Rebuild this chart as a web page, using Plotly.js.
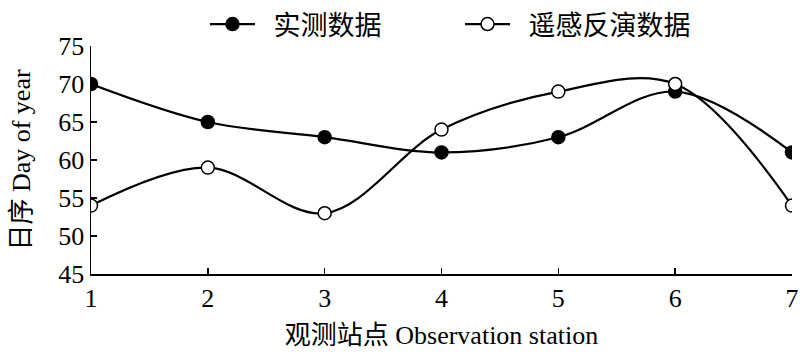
<!DOCTYPE html>
<html><head><meta charset="utf-8">
<script src="https://cdn.plot.ly/plotly-3.0.1.min.js"></script>
<style>html,body{margin:0;padding:0;background:#fff}</style>
</head><body><div id="chart" style="width:800px;height:354px"></div>
<script>
const stations = [1, 2, 3, 4, 5, 6, 7];
const measured = [70, 65, 63, 61, 63, 69, 61];
const remote = [54, 59, 53, 64, 69, 70, 54];
const seriesNames = ['\u00a0\u00a0实测数据', '\u00a0\u00a0遥感反演数据'];
const font = 'Liberation Serif, Times New Roman, Noto Sans CJK SC, serif';

const traces = [
  {x: stations, y: measured, name: seriesNames[0], mode: 'lines+markers',
   line: {shape: 'spline', smoothing: 1, color: '#000', width: 2.2},
   marker: {symbol: 'circle', size: 13, color: '#000', line: {color: '#000', width: 1.5}}},
  {x: stations, y: remote, name: seriesNames[1], mode: 'lines+markers',
   line: {shape: 'spline', smoothing: 1, color: '#000', width: 2.2},
   marker: {symbol: 'circle', size: 13, color: '#fff', line: {color: '#000', width: 1.5}}}
];

const layout = {
  width: 800, height: 354,
  margin: {l: 91, r: 8, t: 46, b: 80, autoexpand: false},
  paper_bgcolor: '#fff', plot_bgcolor: '#fff',
  font: {family: font, size: 26, color: '#000'},
  showlegend: true,
  legend: {orientation: 'h', x: 0.575, xanchor: 'center', xref: 'container', y: 1, yref: 'container', yanchor: 'top',
           font: {family: font, size: 27, color: '#000'}, itemwidth: 45, entrywidth: 195},
  xaxis: {range: [1, 7], tickvals: stations, showgrid: false, zeroline: false,
          showline: true, linecolor: '#000', linewidth: 1.5,
          ticks: 'inside', ticklen: 6, tickcolor: '#000', tickwidth: 1.5,
          tickfont: {family: font, size: 26, color: '#000'},
          title: {text: '观测站点 Observation station', font: {family: font, size: 26, color: '#000'}, standoff: 14}},
  yaxis: {range: [45, 75], dtick: 5, showgrid: false, zeroline: false,
          showline: true, linecolor: '#000', linewidth: 1.5,
          ticks: 'inside', ticklen: 6, tickcolor: '#000', tickwidth: 1.5,
          tickfont: {family: font, size: 26, color: '#000'},
          title: {text: '日序 Day of year', font: {family: font, size: 26, color: '#000'}, standoff: 20}},
};
Plotly.newPlot('chart', traces, layout, {displayModeBar: false, staticPlot: true});
</script></body></html>
